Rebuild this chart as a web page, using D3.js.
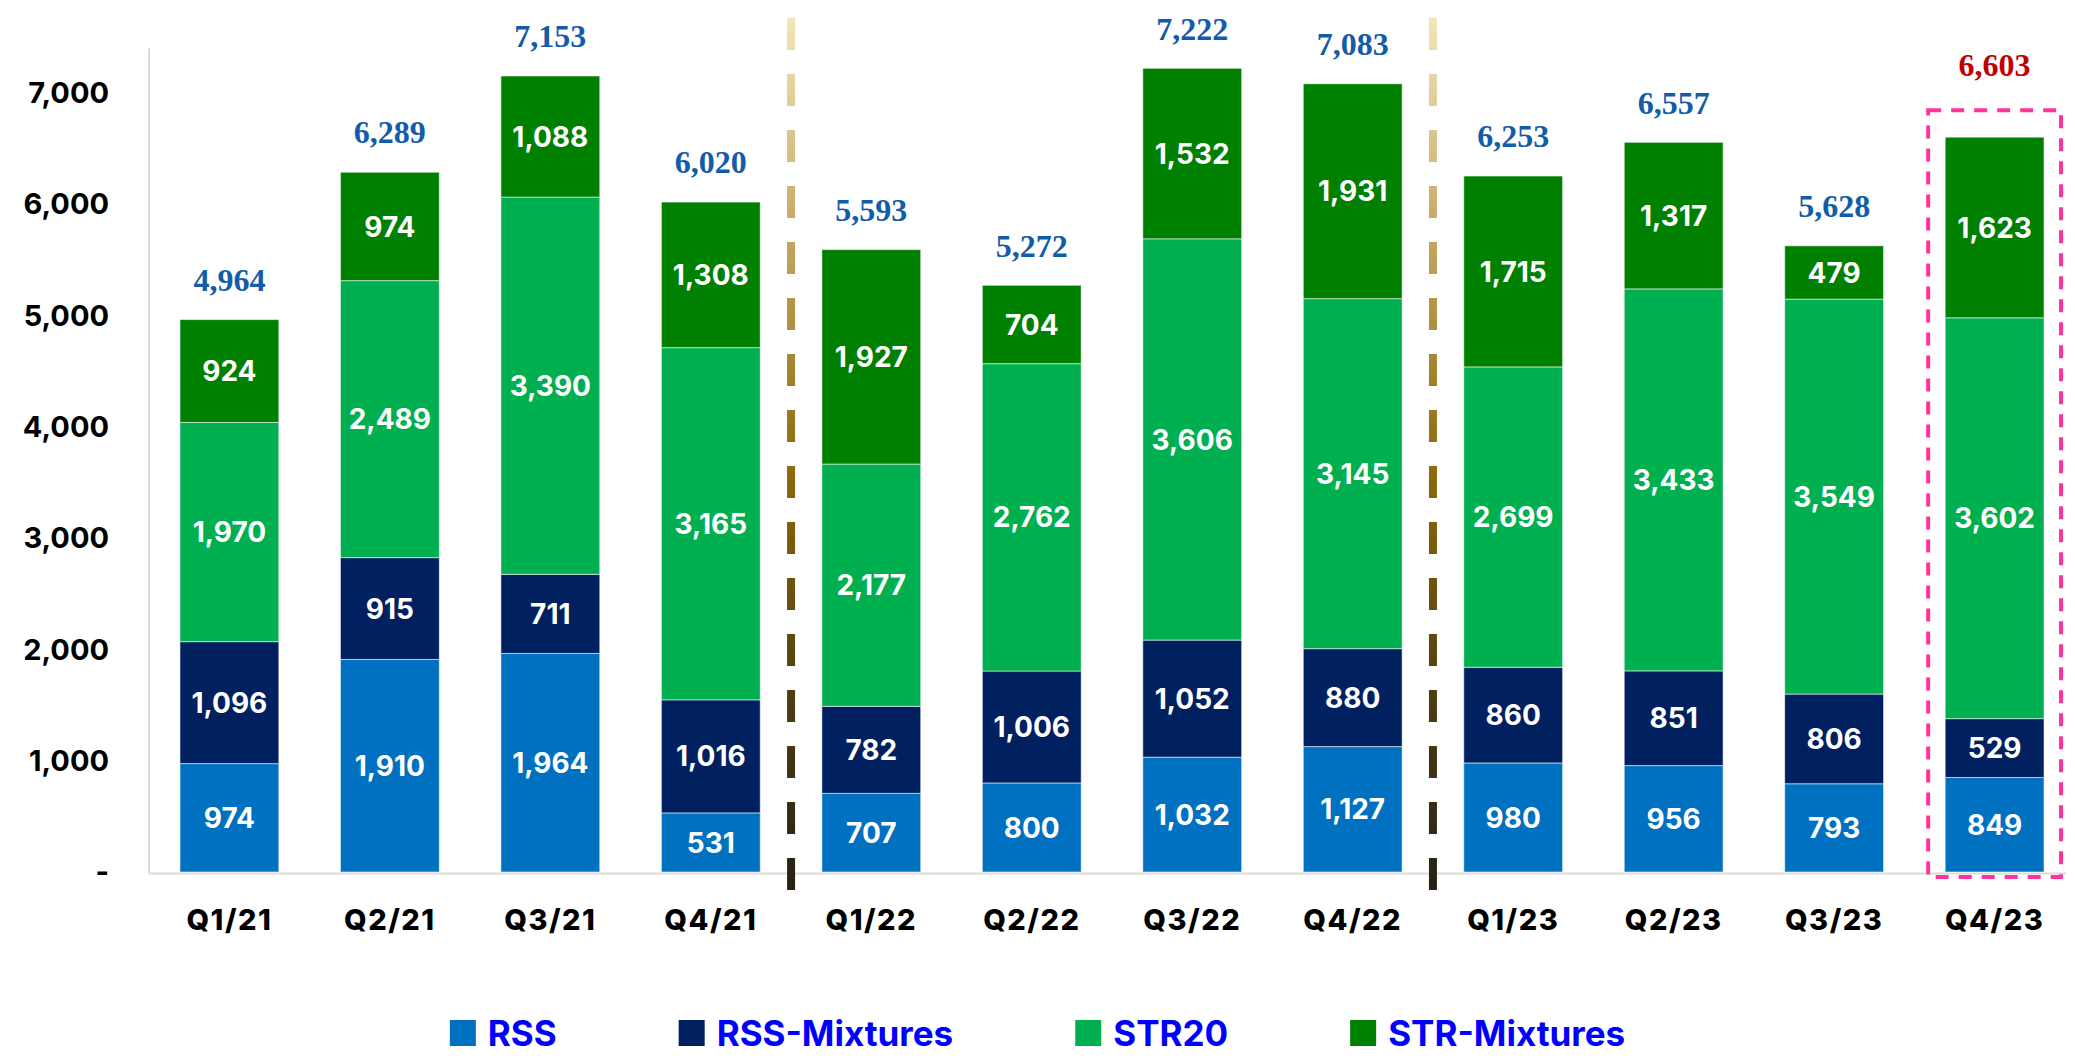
<!DOCTYPE html>
<html>
<head>
<meta charset="utf-8">
<script src="https://cdn.jsdelivr.net/npm/d3@7.9.0/dist/d3.min.js"></script>
<style>
  html, body { margin: 0; padding: 0; background: #fff; }
  svg { display: block; font-family: Inter, "Open Sans", sans-serif; }
</style>
</head>
<body>
<svg id="chart" width="2075" height="1060"></svg>
<script>
// quarters and stacked series
const quarters = ["Q1/21", "Q2/21", "Q3/21", "Q4/21", "Q1/22", "Q2/22", "Q3/22", "Q4/22", "Q1/23", "Q2/23", "Q3/23", "Q4/23"];
const rss         = [974, 1910, 1964, 531, 707, 800, 1032, 1127, 980, 956, 793, 849];
const rssMixtures = [1096, 915, 711, 1016, 782, 1006, 1052, 880, 860, 851, 806, 529];
const str20       = [1970, 2489, 3390, 3165, 2177, 2762, 3606, 3145, 2699, 3433, 3549, 3602];
const strMixtures = [924, 974, 1088, 1308, 1927, 704, 1532, 1931, 1715, 1317, 479, 1623];
const totals      = [4964, 6289, 7153, 6020, 5593, 5272, 7222, 7083, 6253, 6557, 5628, 6603];
const seriesNames = ["RSS", "RSS-Mixtures", "STR20", "STR-Mixtures"];
const yTicks = [0, 1000, 2000, 3000, 4000, 5000, 6000, 7000];
const dividers = [["Q4/21", "Q1/22"], ["Q4/22", "Q1/23"]];
const highlighted = "Q4/23";

const colors = ["#0070C0", "#002060", "#00B050", "#008000"];
const seriesData = [rss, rssMixtures, str20, strMixtures];

const svg = d3.select("#chart");
const W = 2075;

const x = d3.scaleBand().domain(quarters).range([149, 2075]).paddingInner(0.384).paddingOuter(0.193);
const y = d3.scaleLinear().domain([0, 7400]).range([872, 48.5]);

const rows = quarters.map((q, i) => {
  const r = { q: q };
  seriesNames.forEach((s, k) => r[s] = seriesData[k][i]);
  return r;
});
const stacked = d3.stack().keys(seriesNames)(rows);

// axis lines
svg.append("line")
  .attr("x1", 149).attr("x2", 149)
  .attr("y1", y(7400)).attr("y2", y(0) + 1)
  .attr("stroke", "#d9d9d9").attr("stroke-width", 2);
svg.append("line")
  .attr("x1", 149).attr("x2", 2066)
  .attr("y1", y(0) + 1.5).attr("y2", y(0) + 1.5)
  .attr("stroke", "#d9d9d9").attr("stroke-width", 2);

// y tick labels
svg.append("g").selectAll("text")
  .data(yTicks)
  .join("text")
  .attr("x", 109)
  .attr("y", d => y(d))
  .attr("dy", "0.35em")
  .attr("text-anchor", "end")
  .attr("font-size", 29)
  .attr("font-weight", 700)
  .attr("fill", "#000")
  .text(d => d === 0 ? "-" : d3.format(",")(d));

// bars
const layer = svg.append("g").selectAll("g")
  .data(stacked)
  .join("g")
  .attr("fill", (d, i) => colors[i]);

layer.selectAll("rect")
  .data(d => d)
  .join("rect")
  .attr("x", d => x(d.data.q))
  .attr("width", x.bandwidth())
  .attr("y", d => y(d[1]))
  .attr("height", d => y(d[0]) - y(d[1]))
  .attr("stroke", "rgba(255,255,255,0.55)")
  .attr("stroke-width", 1);

layer.selectAll("text")
  .data(d => d)
  .join("text")
  .attr("x", d => x(d.data.q) + x.bandwidth() / 2)
  .attr("y", d => (y(d[0]) + y(d[1])) / 2)
  .attr("dy", "0.36em")
  .attr("text-anchor", "middle")
  .attr("font-size", 28)
  .attr("font-weight", 700)
  .attr("fill", "#fff")
  .text(d => d3.format(",")(d[1] - d[0]));

// totals
svg.append("g").selectAll("text")
  .data(quarters)
  .join("text")
  .attr("x", q => x(q) + x.bandwidth() / 2)
  .attr("y", (q, i) => y(totals[i]) - (q === highlighted ? 72 : 40))
  .attr("dy", "0.35em")
  .attr("text-anchor", "middle")
  .attr("font-family", "'Liberation Serif', 'DejaVu Serif', serif")
  .attr("font-size", 32)
  .attr("font-weight", 700)
  .attr("fill", q => q === highlighted ? "#C00000" : "#135CA8")
  .text((q, i) => d3.format(",")(totals[i]));

// x labels
svg.append("g").selectAll("text")
  .data(quarters)
  .join("text")
  .attr("x", q => x(q) + x.bandwidth() / 2)
  .attr("y", 920)
  .attr("dy", "0.35em")
  .attr("text-anchor", "middle")
  .attr("font-size", 29)
  .attr("font-weight", 800)
  .attr("letter-spacing", 1.5)
  .attr("fill", "#000")
  .text(q => q);

// dashed year dividers with a gold-to-dark gradient
const defs = svg.append("defs");
const grad = defs.append("linearGradient")
  .attr("id", "divGrad")
  .attr("gradientUnits", "userSpaceOnUse")
  .attr("x1", 0).attr("x2", 0).attr("y1", 18).attr("y2", 890);
[[0, "#F3E5BA"], [0.27, "#BFA35A"], [0.52, "#8A6A0A"], [0.78, "#4E3D12"], [1, "#262018"]]
  .forEach(s => grad.append("stop").attr("offset", s[0]).attr("stop-color", s[1]));

svg.append("g").selectAll("line")
  .data(dividers)
  .join("line")
  .attr("x1", d => (x(d[0]) + x.bandwidth() + x(d[1])) / 2)
  .attr("x2", d => (x(d[0]) + x.bandwidth() + x(d[1])) / 2 + 0.01)
  .attr("y1", 18)
  .attr("y2", 890)
  .attr("stroke", "url(#divGrad)")
  .attr("stroke-width", 8)
  .attr("stroke-dasharray", "32 24");

// highlight box for the latest quarter
const hi = quarters.indexOf(highlighted);
svg.append("rect")
  .attr("x", x(highlighted) - 17)
  .attr("y", y(totals[hi]) - 27)
  .attr("width", x.bandwidth() + 34)
  .attr("height", y(0) + 5 - (y(totals[hi]) - 27))
  .attr("fill", "none")
  .attr("stroke", "#FF3399")
  .attr("stroke-width", 4)
  .attr("stroke-dasharray", "13 10");

// legend
const legend = svg.append("g");
const items = legend.selectAll("g")
  .data(seriesNames)
  .join("g");
items.append("rect")
  .attr("width", 26).attr("height", 26)
  .attr("y", 1020)
  .attr("fill", (d, i) => colors[i]);
items.append("text")
  .attr("x", 38)
  .attr("y", 1033)
  .attr("dy", "0.36em")
  .attr("font-size", 35)
  .attr("font-weight", 700)
  .attr("fill", "#0000FF")
  .text(d => d);

let widths = [];
items.each(function() {
  widths.push(38 + d3.select(this).select("text").node().getComputedTextLength());
});
const gap = 122;
const totalW = d3.sum(widths) + gap * (widths.length - 1);
let cx = (W - totalW) / 2;
items.attr("transform", (d, i) => {
  const t = `translate(${cx},0)`;
  cx += widths[i] + gap;
  return t;
});
</script>
</body>
</html>
